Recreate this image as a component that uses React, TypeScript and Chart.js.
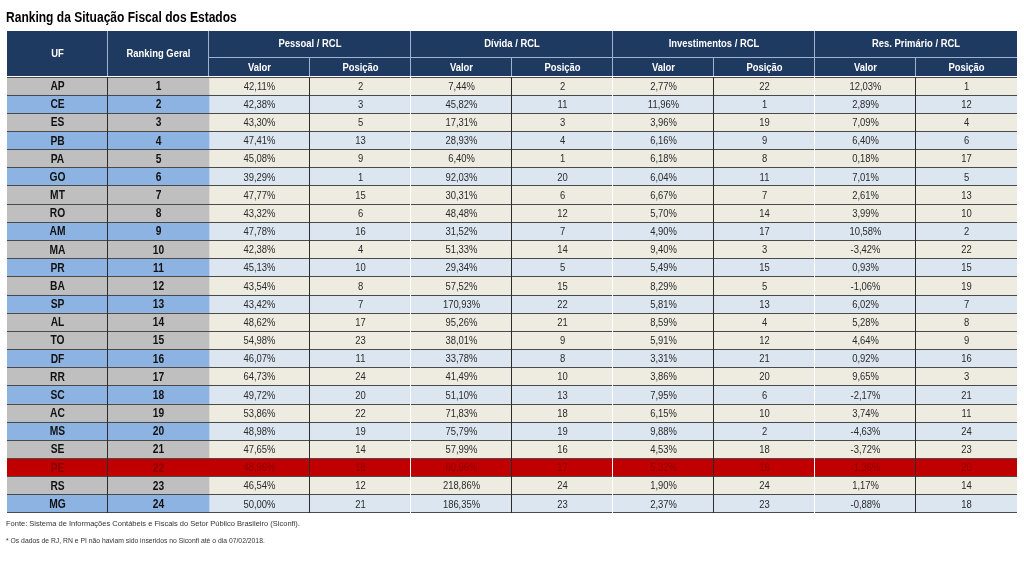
import { useEffect, useRef } from "react";
import { Chart, registerables } from "chart.js";

Chart.register(...registerables);

const TITLE = "Ranking da Situação Fiscal dos Estados";
const SOURCE = "Fonte: Sistema de Informações Contábeis e Fiscais do Setor Público Brasileiro (Siconfi).";
const NOTE = "* Os dados de RJ, RN e PI não haviam sido inseridos no Siconfi até o dia 07/02/2018.";

const HEAD_UF = "UF";
const HEAD_RANK = "Ranking Geral";
const GROUPS = ["Pessoal / RCL", "Dívida / RCL", "Investimentos / RCL", "Res. Primário / RCL"];
const SUBHEADS = ["Valor", "Posição"];

const UF = ["AP", "CE", "ES", "PB", "PA", "GO", "MT", "RO", "AM", "MA", "PR", "BA", "SP", "AL", "TO", "DF", "RR", "SC", "AC", "MS", "SE", "PE", "RS", "MG"];
const RANKING = [1, 2, 3, 4, 5, 6, 7, 8, 9, 10, 11, 12, 13, 14, 15, 16, 17, 18, 19, 20, 21, 22, 23, 24];
// g = gray/beige row, b = blue row, r = highlighted (red) row
const ROW_KIND = ["g", "b", "g", "b", "g", "b", "g", "g", "b", "g", "b", "g", "b", "g", "g", "b", "g", "b", "g", "b", "g", "r", "g", "b"];

const PESSOAL_VALOR = [42.11, 42.38, 43.30, 47.41, 45.08, 39.29, 47.77, 43.32, 47.78, 42.38, 45.13, 43.54, 43.42, 48.62, 54.98, 46.07, 64.73, 49.72, 53.86, 48.98, 47.65, 48.96, 46.54, 50.00];
const PESSOAL_POS = [2, 3, 5, 13, 9, 1, 15, 6, 16, 4, 10, 8, 7, 17, 23, 11, 24, 20, 22, 19, 14, 18, 12, 21];
const DIVIDA_VALOR = [7.44, 45.82, 17.31, 28.93, 6.40, 92.03, 30.31, 48.48, 31.52, 51.33, 29.34, 57.52, 170.93, 95.26, 38.01, 33.78, 41.49, 51.10, 71.83, 75.79, 57.99, 60.96, 218.86, 186.35];
const DIVIDA_POS = [2, 11, 3, 4, 1, 20, 6, 12, 7, 14, 5, 15, 22, 21, 9, 8, 10, 13, 18, 19, 16, 17, 24, 23];
const INVEST_VALOR = [2.77, 11.96, 3.96, 6.16, 6.18, 6.04, 6.67, 5.70, 4.90, 9.40, 5.49, 8.29, 5.81, 8.59, 5.91, 3.31, 3.86, 7.95, 6.15, 9.88, 4.53, 5.32, 1.90, 2.37];
const INVEST_POS = [22, 1, 19, 9, 8, 11, 7, 14, 17, 3, 15, 5, 13, 4, 12, 21, 20, 6, 10, 2, 18, 16, 24, 23];
const RES_VALOR = [12.03, 2.89, 7.09, 6.40, 0.18, 7.01, 2.61, 3.99, 10.58, -3.42, 0.93, -1.06, 6.02, 5.28, 4.64, 0.92, 9.65, -2.17, 3.74, -4.63, -3.72, -1.36, 1.17, -0.88];
const RES_POS = [1, 12, 4, 6, 17, 5, 13, 10, 2, 22, 15, 19, 7, 8, 9, 16, 3, 21, 11, 24, 23, 20, 14, 18];

const fmtPct = (v: number) => v.toFixed(2).replace(".", ",") + "%";

type Col = { text: string[]; key: boolean };
const COLUMNS: Col[] = [
  { text: UF, key: true },
  { text: RANKING.map(String), key: true },
  { text: PESSOAL_VALOR.map(fmtPct), key: false },
  { text: PESSOAL_POS.map(String), key: false },
  { text: DIVIDA_VALOR.map(fmtPct), key: false },
  { text: DIVIDA_POS.map(String), key: false },
  { text: INVEST_VALOR.map(fmtPct), key: false },
  { text: INVEST_POS.map(String), key: false },
  { text: RES_VALOR.map(fmtPct), key: false },
  { text: RES_POS.map(String), key: false },
];

const NAVY = "#1f3a60";
const HEAD_LINE = "#9fb3cf";
const KEY_GRAY = "#bfbfbf";
const KEY_BLUE = "#8db3e2";
const CELL_BEIGE = "#eeece1";
const CELL_BLUE = "#dce6f1";
const RED = "#c00000";
const RED_TEXT = "#8a0000";
const LINE_DARK = "#4a4a4a";
const FONT = "'Liberation Sans', Arial, sans-serif";
const SX = 0.82;

function cellColor(kind: string, key: boolean) {
  if (kind === "r") return RED;
  if (kind === "b") return key ? KEY_BLUE : CELL_BLUE;
  return key ? KEY_GRAY : CELL_BEIGE;
}

function drawText(ctx: CanvasRenderingContext2D, s: string, x: number, y: number, font: string, color: string, sx = SX, align: CanvasTextAlign = "center") {
  ctx.save();
  ctx.font = font;
  ctx.fillStyle = color;
  ctx.textAlign = align;
  ctx.textBaseline = "middle";
  ctx.translate(x, y);
  ctx.scale(sx, 1);
  ctx.fillText(s, 0, 0);
  ctx.restore();
}

function hLine(ctx: CanvasRenderingContext2D, x1: number, x2: number, y: number, color: string) {
  ctx.strokeStyle = color;
  ctx.lineWidth = 1;
  ctx.beginPath();
  ctx.moveTo(x1, Math.round(y) + 0.5);
  ctx.lineTo(x2, Math.round(y) + 0.5);
  ctx.stroke();
}
function vLine(ctx: CanvasRenderingContext2D, x: number, y1: number, y2: number, color: string) {
  ctx.strokeStyle = color;
  ctx.lineWidth = 1;
  ctx.beginPath();
  ctx.moveTo(Math.round(x) - 0.5, y1);
  ctx.lineTo(Math.round(x) - 0.5, y2);
  ctx.stroke();
}

const tablePlugin = {
  id: "tablePlugin",
  afterDatasetsDraw(chart: any) {
    const ctx: CanvasRenderingContext2D = chart.ctx;
    const xs = chart.scales.x;
    const ys = chart.scales.y;
    const top = chart.chartArea.top;
    const bottom = chart.chartArea.bottom;
    const X = (c: number) => xs.getPixelForValue(c);
    const n = UF.length;
    const band = (ys.bottom - ys.top) / n;
    const left = X(0);
    const right = X(COLUMNS.length);

    ctx.save();
    // row lines
    for (let i = 0; i <= n; i++) {
      const y = ys.getPixelForValue(i) - band / 2;
      hLine(ctx, left, right, i === n ? bottom - 1 : y - (i === 0 ? 0 : 0.5), LINE_DARK);
    }
    // vertical lines
    for (let c = 1; c < COLUMNS.length; c++) {
      if (c === 1 || c === 3 || c === 5 || c === 7 || c === 9) vLine(ctx, X(c), top, bottom, "#2b2b2b");
      else if (c >= 4) vLine(ctx, X(c), top, bottom, "#ffffff");
    }
    // cell text
    for (let i = 0; i < n; i++) {
      const yc = ys.getPixelForValue(i) + 0.5;
      const kind = ROW_KIND[i];
      COLUMNS.forEach((col, c) => {
        const xc = (X(c) + X(c + 1)) / 2;
        const font = col.key ? `bold 12.5px ${FONT}` : `11.5px ${FONT}`;
        const color = kind === "r" ? RED_TEXT : col.key ? "#111111" : "#2a2a2a";
        drawText(ctx, col.text[i], xc, yc, font, color);
      });
    }

    // header block
    const hTop = 31;
    const hMid = 57;
    const hBot = top - 1;
    ctx.fillStyle = NAVY;
    ctx.fillRect(left, hTop, right - left, hBot - hTop);
    // header lines
    vLine(ctx, X(1), hTop, hBot, HEAD_LINE);
    for (let g = 0; g < GROUPS.length; g++) {
      const c0 = 2 + g * 2;
      vLine(ctx, X(c0), hTop, hBot, HEAD_LINE);
      vLine(ctx, X(c0 + 1), hMid, hBot, HEAD_LINE);
    }
    hLine(ctx, X(2), right, hMid, HEAD_LINE);
    const hf = `bold 11.5px ${FONT}`;
    drawText(ctx, HEAD_UF, (X(0) + X(1)) / 2, (hTop + hBot) / 2, hf, "#ffffff");
    drawText(ctx, HEAD_RANK, (X(1) + X(2)) / 2, (hTop + hBot) / 2, hf, "#ffffff");
    GROUPS.forEach((g, k) => {
      const c0 = 2 + k * 2;
      drawText(ctx, g, (X(c0) + X(c0 + 2)) / 2, (hTop + hMid) / 2, hf, "#ffffff");
      SUBHEADS.forEach((s, j) => {
        drawText(ctx, s, (X(c0 + j) + X(c0 + j + 1)) / 2, (hMid + hBot) / 2 + 1, hf, "#ffffff");
      });
    });

    // title and notes
    drawText(ctx, TITLE, left - 1, 18, `bold 14.5px ${FONT}`, "#000000", 0.83, "left");
    drawText(ctx, SOURCE, left - 1, 524, `7.5px ${FONT}`, "#333333", 1, "left");
    drawText(ctx, NOTE, left - 1, 541, `6.8px ${FONT}`, "#333333", 1, "left");
    ctx.restore();
  },
};

export default function App() {
  const ref = useRef<HTMLCanvasElement>(null);
  useEffect(() => {
    if (!ref.current) return;
    const datasets = COLUMNS.map((col, c) => ({
      label: String(c),
      data: UF.map(() => [c, c + 1] as [number, number]),
      backgroundColor: ROW_KIND.map((k) => cellColor(k, col.key)),
      borderWidth: 0,
      borderSkipped: false,
      grouped: false,
      barPercentage: 1,
      categoryPercentage: 1,
    }));
    const chart = new Chart(ref.current, {
      type: "bar",
      data: { labels: UF, datasets: datasets as any },
      options: {
        indexAxis: "y",
        animation: false,
        responsive: false,
        maintainAspectRatio: false,
        layout: { padding: { left: 7, right: 7, top: 77, bottom: 53 } },
        scales: {
          x: { type: "linear", min: 0, max: COLUMNS.length, display: false },
          y: { type: "category", display: false, offset: true },
        },
        plugins: {
          legend: { display: false },
          tooltip: { enabled: false },
          title: { display: false },
        },
      },
      plugins: [tablePlugin],
    });
    return () => chart.destroy();
  }, []);
  return (
    <div style={{ position: "fixed", left: 0, top: 0, width: 1024, height: 566, background: "#ffffff" }}>
      <canvas ref={ref} width={1024} height={566} />
    </div>
  );
}
